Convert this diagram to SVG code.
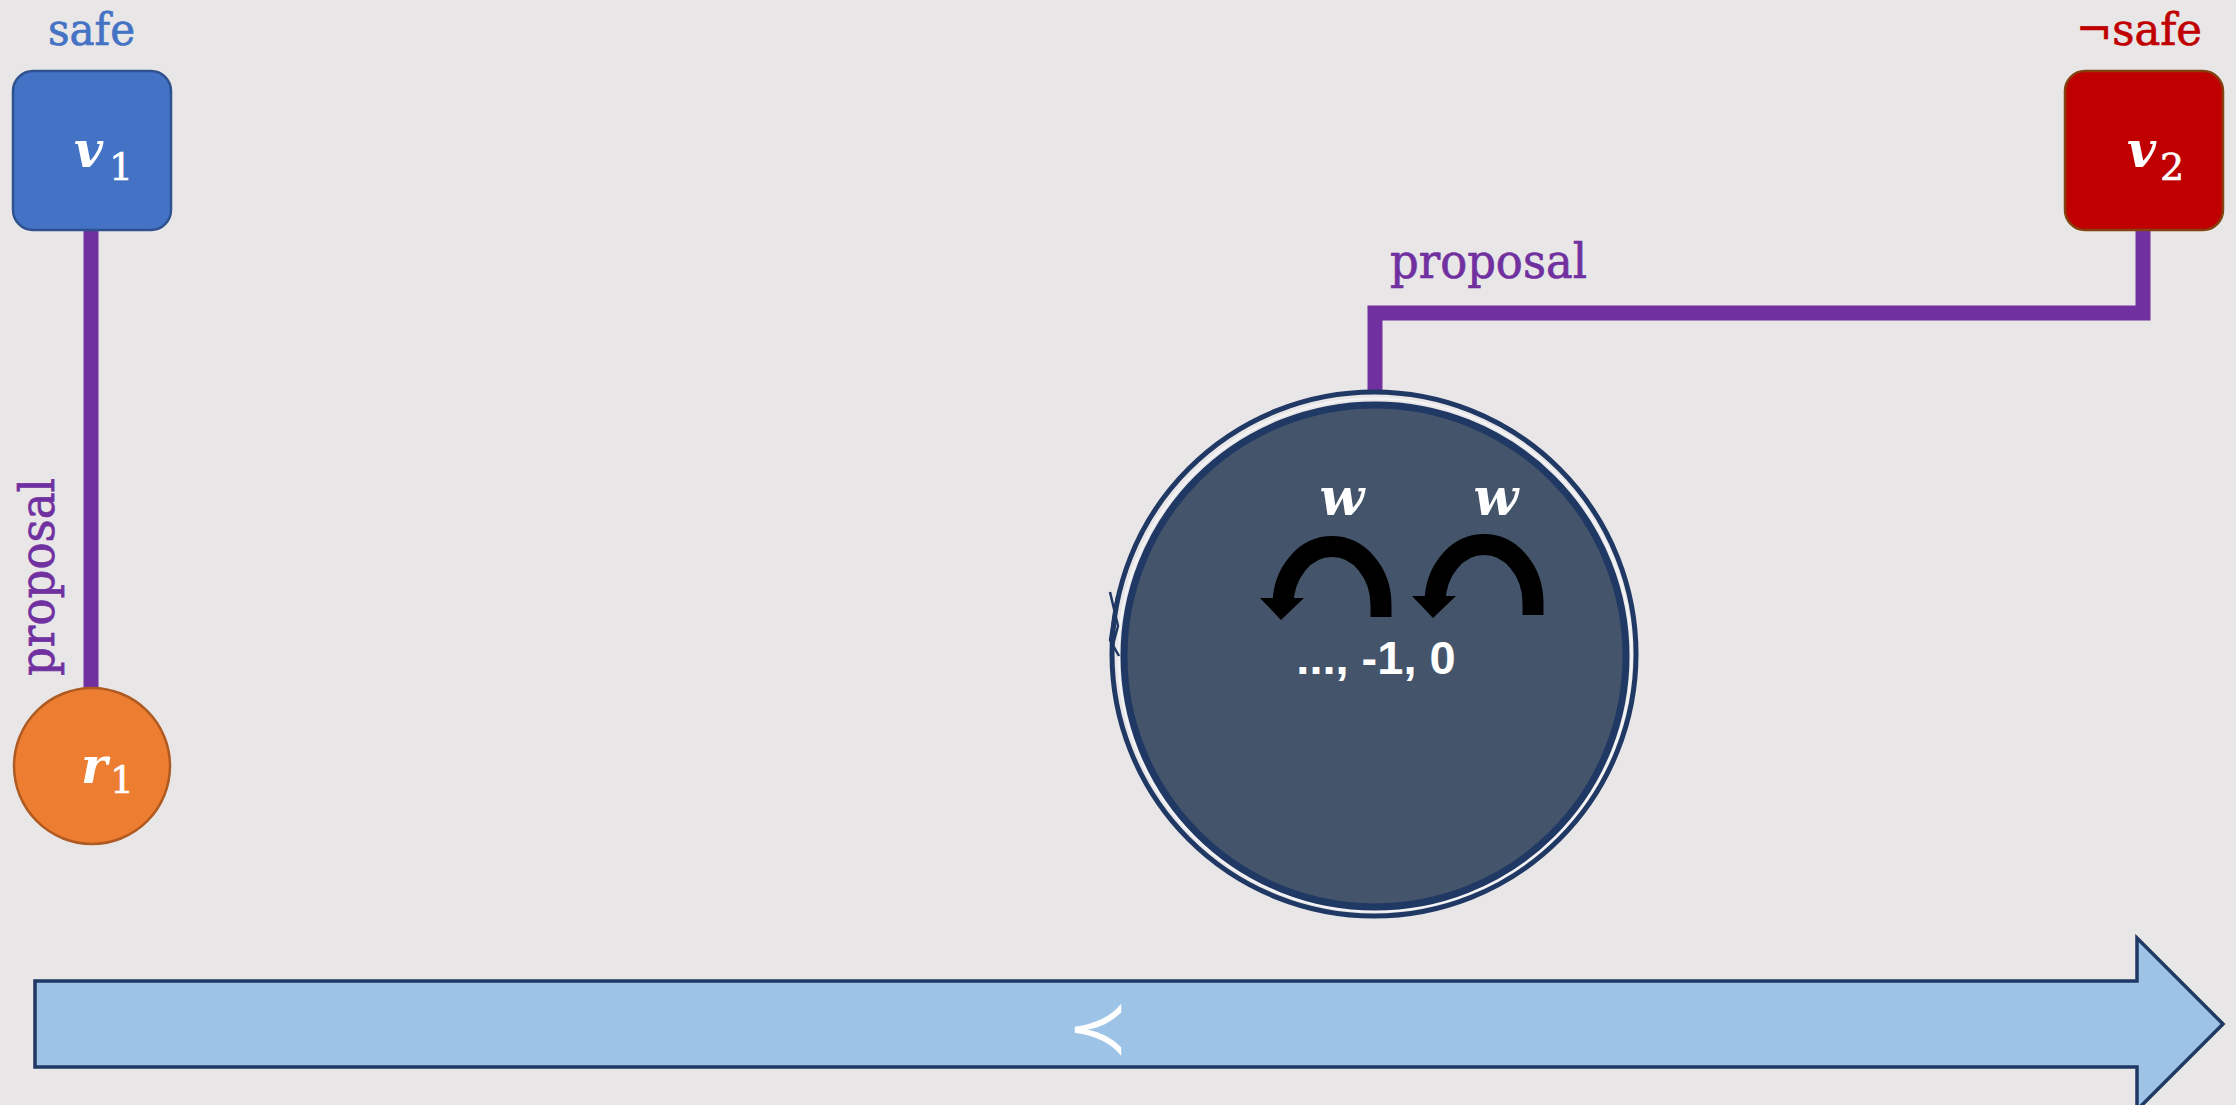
<svg xmlns="http://www.w3.org/2000/svg" width="2236" height="1105" viewBox="0 0 2236 1105">
  <defs>
    <style>
      .lbl { font-family: "DejaVu Serif", "Liberation Serif", serif; stroke-width: 0.7; }
      .math { font-family: "DejaVu Serif", "Liberation Serif", serif; font-style: italic; font-weight: bold; fill: #FFFFFF; }
      .sub { font-family: "DejaVu Serif", "Liberation Serif", serif; fill: #FFFFFF; stroke: #FFFFFF; stroke-width: 0.6; }
      .wire { fill: none; stroke: #7030A0; stroke-width: 15; stroke-linejoin: miter; }
      .navy { stroke: #1F3864; }
    </style>
    <!-- curved "w" step arrow -->
    <g id="stepArrow">
      <path d="M1381,617 L1381,605 A49,58.5 0 0 0 1283,605" fill="none" stroke="#000000" stroke-width="21"/>
      <polygon points="1260,598 1304,598 1281,620" fill="#000000"/>
    </g>
  </defs>

  <rect x="0" y="0" width="2236" height="1105" fill="#E8E6E7"/>

  <!-- connectors -->
  <g id="connectors">
    <line class="wire" x1="91" y1="230" x2="91" y2="689" stroke-width="16"/>
    <polyline class="wire" points="1375,394 1375,313 2143,313 2143,229"/>
    <text class="lbl" transform="translate(54,676) rotate(-90)" font-size="49" fill="#7030A0" stroke="#7030A0" textLength="198" lengthAdjust="spacingAndGlyphs">proposal</text>
    <text class="lbl" x="1390" y="278" font-size="49" fill="#7030A0" stroke="#7030A0" textLength="197" lengthAdjust="spacingAndGlyphs">proposal</text>
  </g>

  <!-- v1: safe -->
  <g id="node-v1">
    <text class="lbl" x="48" y="45" font-size="45" fill="#4472C4" stroke="#4472C4" textLength="87" lengthAdjust="spacingAndGlyphs">safe</text>
    <rect x="13" y="71" width="158" height="159" rx="20" ry="20" fill="#4472C4" stroke="#2F528F" stroke-width="2.5"/>
    <text class="math" x="74" y="167" font-size="50">v</text>
    <text class="sub" x="109" y="180" font-size="38">1</text>
  </g>

  <!-- v2: not safe -->
  <g id="node-v2">
    <text class="lbl" x="2076" y="45" font-size="45" fill="#C00000" stroke="#C00000" textLength="126" lengthAdjust="spacingAndGlyphs">¬safe</text>
    <rect x="2065" y="71" width="158" height="159" rx="20" ry="20" fill="#C00000" stroke="#85400F" stroke-width="2.5"/>
    <text class="math" x="2127" y="167" font-size="50">v</text>
    <text class="sub" x="2160" y="180" font-size="38">2</text>
  </g>

  <!-- r1 -->
  <g id="node-r1">
    <circle cx="92" cy="766" r="78" fill="#ED7D31" stroke="#AE5A21" stroke-width="2.5"/>
    <text class="math" x="81" y="783" font-size="50">r</text>
    <text class="sub" x="110" y="793" font-size="38">1</text>
  </g>

  <!-- round with its step arrows -->
  <g id="node-round">
    <circle cx="1374" cy="654" r="262" fill="none" class="navy" stroke-width="5"/>
    <circle cx="1375" cy="655" r="256.5" fill="none" stroke="#F4F4F6" stroke-width="2"/>
    <circle cx="1375" cy="656" r="251" fill="#44546A" class="navy" stroke-width="7"/>
    <path d="M1110,592 L1118,626 L1111,652 M1117,597 L1110,640 L1119,656" fill="none" class="navy" stroke-width="2.5"/>
    <use href="#stepArrow"/>
    <use href="#stepArrow" transform="translate(152,-2)"/>
    <text class="math" x="1342" y="515" font-size="52" text-anchor="middle">w</text>
    <text class="math" x="1496" y="515" font-size="52" text-anchor="middle">w</text>
    <text x="1376" y="674" font-family="'Liberation Sans', Arial, sans-serif" font-weight="bold" font-size="47" fill="#FFFFFF" text-anchor="middle">..., -1, 0</text>
  </g>

  <!-- order arrow -->
  <g id="node-order">
    <polygon points="35,981 2137,981 2137,938 2223,1024 2137,1110 2137,1067 35,1067" fill="#9DC3E6" class="navy" stroke-width="3.5" stroke-linejoin="miter"/>
    <text x="1098" y="1053" font-family="'DejaVu Sans', sans-serif" font-size="74" fill="#FFFFFF" text-anchor="middle">≺</text>
  </g>
</svg>
